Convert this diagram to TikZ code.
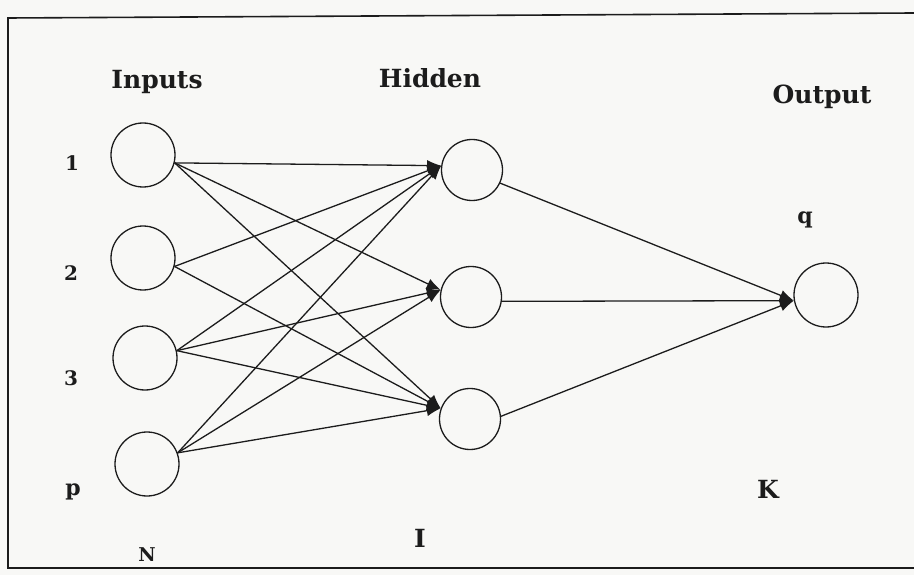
\documentclass[tikz,border=0pt]{standalone}
\usepackage{fontspec}
\setmainfont{DejaVu Serif}
\usetikzlibrary{arrows.meta}
\definecolor{ink}{HTML}{1C1C1C}
\definecolor{paper}{HTML}{F8F8F6}
\tikzset{unit/.style={draw=ink,circle,line width=1.3pt,minimum size=64pt,inner sep=0pt},
 hidunit/.style={unit,minimum size=61pt},
 link/.style={-{Latex[length=14pt,width=11pt]},draw=ink,line width=1.3pt},
 head/.style={font=\fontsize{25}{30}\selectfont\bfseries,text=ink},
 tag/.style={font=\fontsize{20}{24}\selectfont\bfseries,text=ink}}
\begin{document}
\begin{tikzpicture}[x=1pt,y=-1pt]
\useasboundingbox[fill=paper] (0,0) rectangle (914,575);
\draw[ink,line width=1.6pt] (914,13)--(8,18)--(8,568)--(914,568);
\node[head] (inlab) at (157,82) {Inputs};
\node[head] (hidlab) at (430,78) {Hidden};
\node[head] (outlab) at (822,97) {Output};
\node[unit] (in1) at (143,155) {};
\node[unit] (in2) at (143,258) {};
\node[unit] (in3) at (145,358) {};
\node[unit] (in4) at (147,464) {};
\node[hidunit] (h1) at (472,170) {};
\node[hidunit] (h2) at (471,297) {};
\node[hidunit] (h3) at (470,419) {};
\node[unit] (out) at (826,295) {};
\node[tag] (l1) at (72,163) {1};
\node[tag] (l2) at (71,273) {2};
\node[tag] (l3) at (71,378) {3};
\node[tag,font=\fontsize{22}{26}\selectfont\bfseries] (lp) at (73,492) {p};
\node[tag,font=\fontsize{19}{22}\selectfont\bfseries] (lN) at (147,555) {N};
\node[tag,font=\fontsize{22}{26}\selectfont\bfseries] (lq) at (805,220) {q};
\node[head] (lK) at (768,489) {K};
\node[head] (lI) at (420,538) {I};
\draw[link] (in1.-14)--(h1.172);\draw[link] (in1.-14)--(h2.167);\draw[link] (in1.-14)--(h3.160);
\draw[link] (in2.-15)--(h1.172);\draw[link] (in2.-15)--(h3.160);
\draw[link] (in3.13)--(h1.172);\draw[link] (in3.13)--(h2.167);\draw[link] (in3.13)--(h3.160);
\draw[link] (in4.20)--(h1.172);\draw[link] (in4.20)--(h2.167);\draw[link] (in4.20)--(h3.160);
\draw[link] (h1.-25)--(out.190);\draw[link] (h2.-8)--(out.190);\draw[link] (h3.5)--(out.190);
\end{tikzpicture}
\end{document}
